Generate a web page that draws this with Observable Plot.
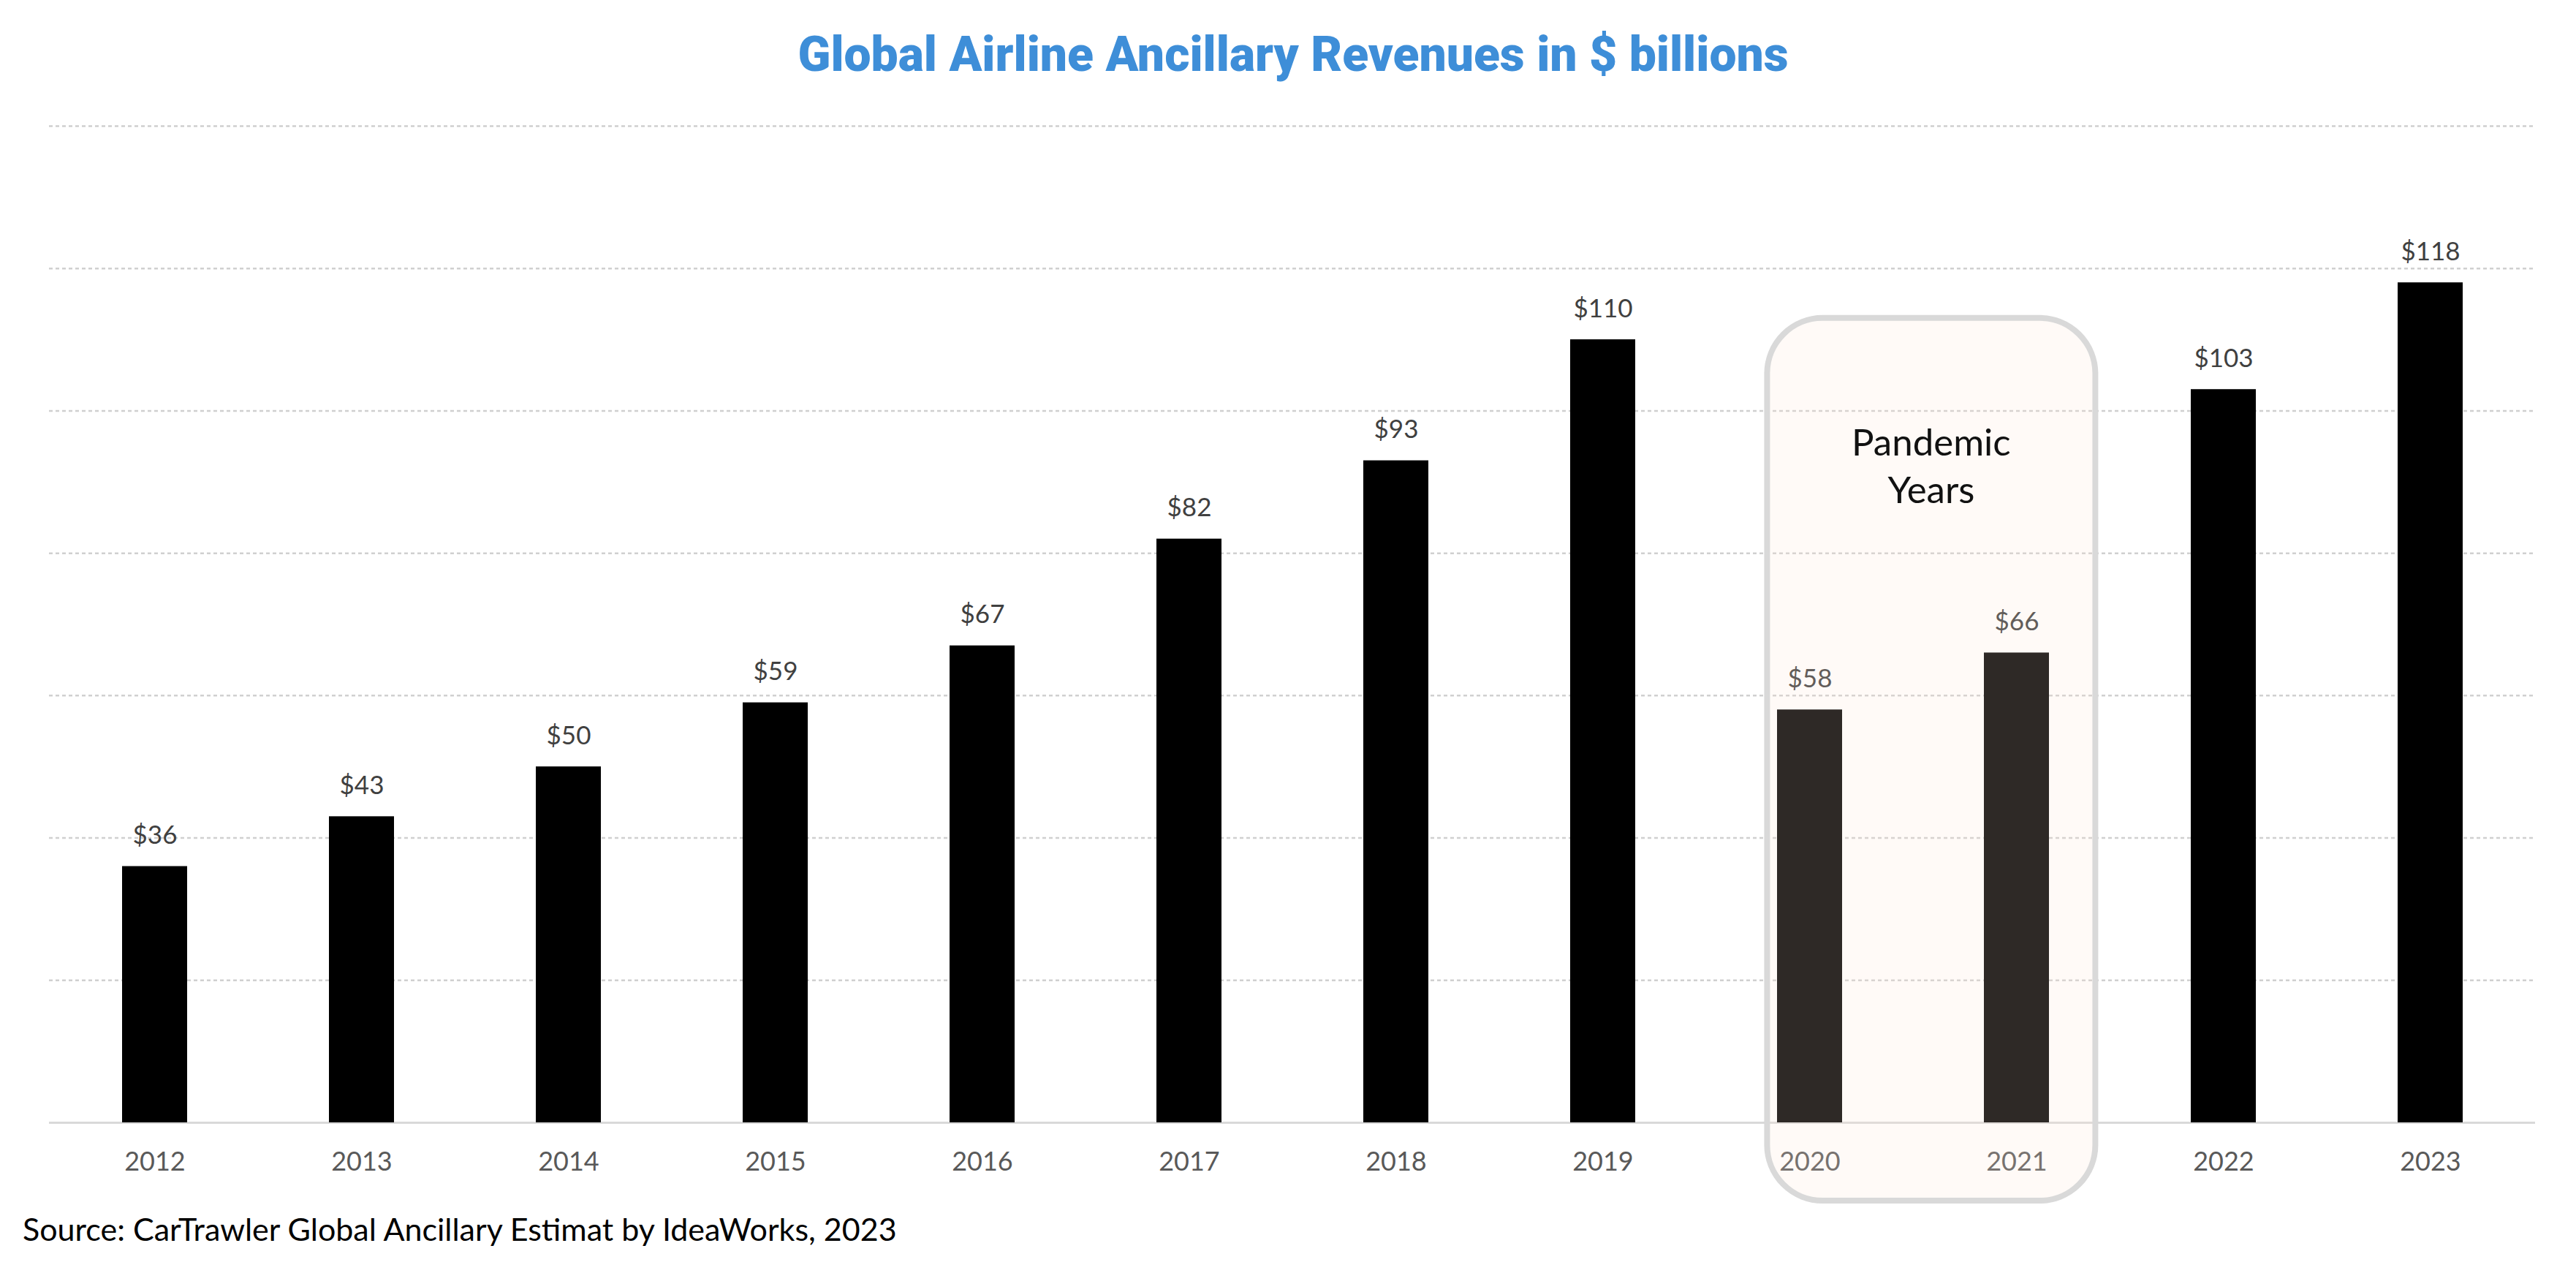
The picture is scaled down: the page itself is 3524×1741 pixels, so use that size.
<!DOCTYPE html>
<html>
<head>
<meta charset="utf-8">
<script src="https://cdn.jsdelivr.net/npm/d3@7"></script>
<script src="https://cdn.jsdelivr.net/npm/@observablehq/plot@0.6"></script>
<style>
  html, body { margin: 0; padding: 0; background: #ffffff; }
  #title { height: 150px; display: flex; align-items: center; justify-content: center; font-family: Roboto, sans-serif; font-weight: 900; font-size: 66px; color: #3E8ED8; box-sizing: border-box; padding-left: 14px; padding-bottom: 2px; }
  #caption { font-family: Lato, "Open Sans", sans-serif; font-size: 43px; color: #000; padding-left: 31px; line-height: 52px; height: 60px; }
  svg { display: block; }
</style>
</head>
<body>
<div id="title"></div>
<div id="chart"></div>
<div id="caption"></div>
<script>
const titleText = "Global Airline Ancillary Revenues in $ billions";
const sourceText = "Source: CarTrawler Global Ancillary Estimat by IdeaWorks, 2023";
const years = ["2012", "2013", "2014", "2015", "2016", "2017", "2018", "2019", "2020", "2021", "2022", "2023"];
const revenues = [36, 43, 50, 59, 67, 82, 93, 110, 58, 66, 103, 118];
const yTicks = [20, 40, 60, 80, 100, 120, 140];
const pandemicYears = ["2020", "2021"];
const pandemicLabel = ["Pandemic", "Years"];
const pandemicTop = 113;   // value level of the top of the annotation box
const pandemicTextLevel = 95.5;

const data = years.map((year, i) => ({year, value: revenues[i]}));

document.querySelector("#title").textContent = titleText;
document.querySelector("#caption").textContent = sourceText;

function pandemicBox(index, scales, values, dimensions) {
  const {x, y} = scales;
  const bw = x.bandwidth ? x.bandwidth() : 0;
  const step = x(years[1]) - x(years[0]);
  const x0 = x(pandemicYears[0]) - 0.048 * step;
  const x1 = x(pandemicYears[1]) + bw + 0.224 * step;
  const top = y(pandemicTop);
  const bottom = dimensions.height - 13;
  const g = d3.create("svg:g");
  g.append("rect")
    .attr("x", x0).attr("y", top)
    .attr("width", x1 - x0).attr("height", bottom - top)
    .attr("rx", 76).attr("ry", 76)
    .attr("fill", "rgb(255,228,211)").attr("fill-opacity", 0.18)
    .attr("stroke", "#D9D9D9").attr("stroke-width", 8);
  const t = g.append("text")
    .attr("x", (x0 + x1) / 2).attr("y", y(pandemicTextLevel))
    .attr("text-anchor", "middle")
    .attr("font-family", "Lato, 'Open Sans', sans-serif")
    .attr("font-size", 51)
    .attr("fill", "#111");
  pandemicLabel.forEach((line, i) => {
    t.append("tspan").attr("x", (x0 + x1) / 2).attr("dy", i === 0 ? "0.35em" : "1.28em").text(line);
  });
  return g.node();
}

const chart = Plot.plot({
  width: 3524,
  height: 1505,
  marginLeft: 67,
  marginRight: 56,
  marginTop: 22,
  marginBottom: 120,
  style: {fontFamily: "Lato, 'Open Sans', sans-serif", background: "#ffffff"},
  x: {domain: years, paddingInner: 0.686, paddingOuter: 0.343, align: 0.5, label: null},
  y: {domain: [0, 140], axis: null},
  marks: [
    Plot.gridY(yTicks, {stroke: "#D0D0D0", strokeOpacity: 1, strokeWidth: 2.5, strokeDasharray: "5,4"}),
    Plot.ruleY([0], {stroke: "#D9D9D9", strokeWidth: 3}),
    Plot.barY(data, {x: "year", y: "value", fill: "#000000"}),
    Plot.text(data, {x: "year", y: "value", text: d => "$" + d.value, dy: -42, fontSize: 35, fill: "#404040"}),
    Plot.axisX({tickSize: 0, tickPadding: 40, fontSize: 36, fill: "#595959", label: null}),
    pandemicBox
  ]
});
document.getElementById("chart").appendChild(chart);
</script>
</body>
</html>
